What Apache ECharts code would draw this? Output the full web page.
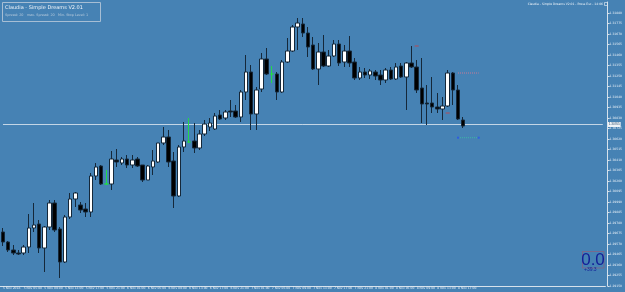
<!DOCTYPE html>
<html>
<head>
<meta charset="utf-8">
<script src="https://cdn.jsdelivr.net/npm/echarts@6.0.0/dist/echarts.min.js"></script>
<style>
html,body{margin:0;padding:0;background:#4682b4;}
#main{width:625px;height:292px;}
</style>
</head>
<body>
<div id="main"></div>
<script>
// GBPUSD H1, 5 Nov 01:00 -> 8 Nov 18:00
var timeLabels = ['5 Nov 2018','5 Nov 05:00','5 Nov 09:00','5 Nov 13:00','5 Nov 17:00','5 Nov 21:00',
    '6 Nov 01:00','6 Nov 05:00','6 Nov 09:00','6 Nov 13:00','6 Nov 17:00','6 Nov 21:00',
    '7 Nov 01:00','7 Nov 05:00','7 Nov 09:00','7 Nov 13:00','7 Nov 17:00','7 Nov 21:00',
    '8 Nov 01:00','8 Nov 05:00','8 Nov 09:00','8 Nov 13:00','8 Nov 17:00'];

var priceTicks = [1.29150,1.29255,1.29360,1.29465,1.29570,1.29675,1.29780,1.29885,1.29990,
    1.30095,1.30200,1.30305,1.30410,1.30515,1.30620,1.30725,1.30830,1.30935,1.31040,
    1.31145,1.31250,1.31355,1.31460,1.31565,1.31670,1.31775,1.31880];

var opens = [1.2969,1.2959,1.2951,1.2948,1.2948,1.2954,1.2973,1.2977,1.2953,1.2974,
    1.2998,1.2972,1.2939,1.2984,1.3002,1.2996,1.2992,1.2989,1.3025,1.3035,
    1.3017,1.3017,1.3041,1.3038,1.3042,1.3036,1.3042,1.3036,1.3021,1.3034,
    1.3039,1.3058,1.3064,1.3040,1.3005,1.3054,1.3059,1.3060,1.3053,1.3067,
    1.3074,1.3072,1.3086,1.3083,1.3090,1.3090,1.3084,1.3109,1.3129,1.3087,
    1.3112,1.3142,1.3127,1.3127,1.3109,1.3139,1.3150,1.3174,1.3177,1.3168,
    1.3156,1.3132,1.3149,1.3135,1.3145,1.3157,1.3139,1.3150,1.3139,1.3123,
    1.3129,1.3126,1.3129,1.3126,1.3121,1.3131,1.3122,1.3135,1.3124,1.3138,
    1.3134,1.3113,1.3098,1.3098,1.3094,1.3092,1.3095,1.3128,1.3111,1.3081];
var highs = [1.2973,1.2960,1.2956,1.2951,1.2956,1.2987,1.2998,1.2981,1.2975,1.3001,
    1.3001,1.2974,1.2986,1.3008,1.3009,1.2999,1.2998,1.3028,1.3038,1.3036,
    1.3031,1.3050,1.3052,1.3044,1.3046,1.3046,1.3044,1.3036,1.3036,1.3051,
    1.3058,1.3074,1.3071,1.3049,1.3056,1.3079,1.3083,1.3078,1.3071,1.3081,
    1.3083,1.3088,1.3091,1.3091,1.3101,1.3096,1.3111,1.3146,1.3136,1.3114,
    1.3148,1.3153,1.3135,1.3129,1.3141,1.3163,1.3176,1.3183,1.3183,1.3174,
    1.3164,1.3158,1.3166,1.3151,1.3161,1.3161,1.3156,1.3165,1.3143,1.3134,
    1.3133,1.3132,1.3131,1.3131,1.3133,1.3134,1.3138,1.3138,1.3139,1.3155,
    1.3141,1.3143,1.3116,1.3124,1.3108,1.3104,1.3131,1.3129,1.3116,1.3084];
var lows = [1.2955,1.2949,1.2946,1.2946,1.2946,1.2948,1.2969,1.2948,1.2929,1.2971,
    1.2969,1.2923,1.2938,1.2982,1.2994,1.2988,1.2984,1.2984,1.3021,1.3016,
    1.3016,1.3011,1.3034,1.3036,1.3033,1.3033,1.3034,1.3019,1.3021,1.3026,
    1.3038,1.3056,1.3034,1.2993,1.3004,1.3049,1.3058,1.3048,1.3051,1.3065,
    1.3070,1.3071,1.3081,1.3081,1.3084,1.3083,1.3079,1.3101,1.3071,1.3071,
    1.3109,1.3126,1.3118,1.3101,1.3108,1.3138,1.3149,1.3151,1.3164,1.3144,
    1.3131,1.3116,1.3134,1.3134,1.3144,1.3135,1.3134,1.3134,1.3121,1.3121,
    1.3123,1.3122,1.3121,1.3116,1.3118,1.3121,1.3121,1.3123,1.3091,1.3133,
    1.3108,1.3078,1.3076,1.3088,1.3088,1.3081,1.3094,1.3096,1.3081,1.3073];
var closes = [1.2959,1.2951,1.2948,1.2947,1.2954,1.2973,1.2976,1.2953,1.2974,1.2998,
    1.2971,1.2939,1.2984,1.3002,1.3008,1.2991,1.2989,1.3025,1.3034,1.3017,
    1.3017,1.3042,1.3039,1.3042,1.3036,1.3041,1.3035,1.3021,1.3035,1.3040,
    1.3058,1.3064,1.3039,1.3005,1.3054,1.3060,1.3059,1.3053,1.3067,1.3077,
    1.3078,1.3085,1.3082,1.3089,1.3089,1.3084,1.3109,1.3129,1.3087,1.3111,
    1.3142,1.3127,1.3127,1.3109,1.3139,1.3150,1.3174,1.3178,1.3168,1.3154,
    1.3132,1.3149,1.3135,1.3145,1.3157,1.3138,1.3150,1.3138,1.3123,1.3129,
    1.3126,1.3130,1.3125,1.3121,1.3131,1.3122,1.3134,1.3124,1.3138,1.3134,
    1.3111,1.3097,1.3097,1.3094,1.3092,1.3095,1.3128,1.3111,1.3082,1.3075];

var bidPrice = 1.30765;
var slotCount = 117;          // bars + empty chart shift on the right
var redMarks = [[80,1.3155],[86,1.3088]];
var upperLevel = [[88,1.3128],[92,1.3128]];
var lowerLevel = [[88,1.30633],[92,1.30633]];

var slots = [];
for (var i = 0; i < slotCount; i++) slots.push(i);

var candles = opens.map(function (o, i) {
    var item = {value: [o, closes[i], lows[i], highs[i]]};
    if (o === closes[i]) {
        // MT4 draws dojis in the line colour
        item.itemStyle = {color: '#22d84a', borderColor: '#22d84a', color0: '#22d84a', borderColor0: '#22d84a'};
    }
    return item;
});

var chart = echarts.init(document.getElementById('main'));
var txt = '#e8eff6';

var option = {
    backgroundColor: '#4682b4',
    animation: false,
    grid: {left: -0.9, right: 16.2, top: 2, bottom: 6},
    xAxis: {
        type: 'category',
        data: slots,
        boundaryGap: true,
        axisLine: {lineStyle: {color: '#d6e2ec', width: 1}},
        axisTick: {interval: 3, length: 2, lineStyle: {color: '#d6e2ec'}},
        axisLabel: {
            interval: 3, fontSize: 3, color: txt, margin: 1, align: 'left',
            fontFamily: 'DejaVu Sans',
            formatter: function (v, idx) { return timeLabels[idx / 4] || ''; }
        },
        splitLine: {show: false}
    },
    yAxis: {
        type: 'value',
        position: 'right',
        offset: 2.2,
        min: 1.2915,
        max: 1.3199,
        axisLine: {show: true, lineStyle: {color: '#d6e2ec', width: 1}},
        axisTick: {show: true, length: 2, customValues: priceTicks, lineStyle: {color: '#d6e2ec'}},
        axisLabel: {
            customValues: priceTicks, fontSize: 3, color: txt, margin: 2,
            fontFamily: 'DejaVu Sans',
            formatter: function (v) { return v.toFixed(5); }
        },
        splitLine: {show: false}
    },
    series: [{
        // bid line, drawn under the candles
        type: 'line',
        data: [[0, bidPrice], [slotCount - 1, bidPrice]],
        symbol: 'none',
        silent: true,
        z: 1,
        lineStyle: {color: '#c4d6e6', width: 1},
        endLabel: {
            show: true, formatter: bidPrice.toFixed(5), fontSize: 3, distance: 5,
            color: '#2a4a6a', backgroundColor: '#eef3f8', padding: [1, 1]
        }
    }, {
        type: 'candlestick',
        data: candles,
        barWidth: 4,
        z: 3,
        itemStyle: {
            color: '#ffffff',
            color0: '#000000',
            borderColor: '#15283a',
            borderColor0: '#15283a',
            borderWidth: 1
        }
    }, {
        type: 'scatter',
        data: redMarks,
        symbol: 'rect',
        symbolSize: [4, 1],
        itemStyle: {color: '#d23c3c'}
    }, {
        type: 'line',
        data: upperLevel,
        symbol: 'none',
        lineStyle: {color: '#c87a96', width: 1, type: 'dotted'}
    }, {
        type: 'line',
        data: lowerLevel,
        symbol: 'rect',
        symbolSize: 2,
        showSymbol: true,
        itemStyle: {color: '#2f5ee0'},
        lineStyle: {color: '#3db7a6', width: 1, type: 'dotted'}
    }],
    graphic: [
        {type: 'rect', shape: {x: 2.5, y: 2.5, width: 98, height: 19}, style: {fill: 'none', stroke: '#a7bed4', lineWidth: 1}},
        {type: 'text', x: 5, y: 5, style: {text: 'Claudia - Simple Dreams V2.01', fontSize: 5, fill: '#f0f5fa', fontFamily: 'DejaVu Sans'}},
        {type: 'text', x: 5, y: 14, style: {text: 'Spread: 20   max. Spread: 20   Min. Stop Level: 1', fontSize: 3.4, fill: '#b8cbdc', fontFamily: 'DejaVu Sans'}},
        {type: 'text', x: 603, y: 3, style: {text: 'Claudia - Simple Dreams V2.01 - Press Esc - 14:06', fontSize: 3, fill: '#f0f5fa', align: 'right', fontFamily: 'DejaVu Sans'}},
        {type: 'rect', shape: {x: 604.5, y: 2.5, width: 3, height: 3}, style: {fill: 'none', stroke: '#f0f5fa', lineWidth: 0.6}},
        {type: 'rect', shape: {x: 582.5, y: 251.5, width: 21.5, height: 16.5}, style: {fill: 'none', stroke: '#8e5f7c', lineWidth: 0.7}},
        {type: 'text', x: 593, y: 260, style: {text: '0.0', fontSize: 17, fill: '#121f98', align: 'center', verticalAlign: 'middle', fontFamily: 'Liberation Sans'}},
        {type: 'text', x: 584, y: 267.5, style: {text: '+39.3', fontSize: 5, fill: '#121f98', fontFamily: 'Liberation Sans'}}
    ]
};
chart.setOption(option);
</script>
</body>
</html>
